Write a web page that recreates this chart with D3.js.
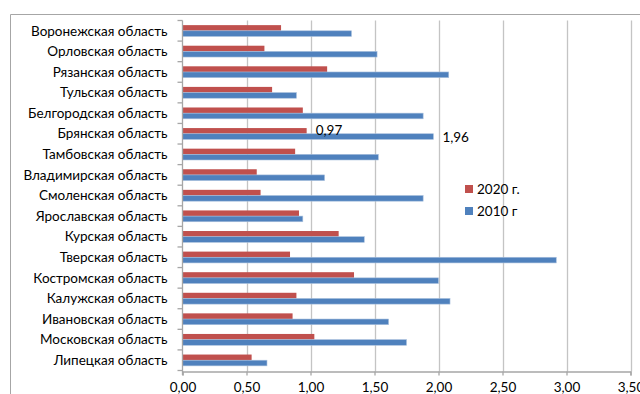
<!DOCTYPE html>
<html><head><meta charset="utf-8">
<script src="https://cdn.jsdelivr.net/npm/d3@7"></script>
<style>html,body{margin:0;padding:0;background:#fff;overflow:hidden}</style>
</head><body>
<svg id="c" width="640" height="394"></svg>
<script>
const categories = ["Воронежская область","Орловская область","Рязанская область","Тульская область","Белгородская область","Брянская область","Тамбовская область","Владимирская область","Смоленская область","Ярославская область","Курская область","Тверская область","Костромская область","Калужская область","Ивановская область","Московская область","Липецкая область"];
const values2020 = [0.77,0.64,1.13,0.70,0.94,0.97,0.88,0.58,0.61,0.91,1.22,0.84,1.34,0.89,0.86,1.03,0.54];
const values2010 = [1.32,1.52,2.08,0.89,1.88,1.96,1.53,1.11,1.88,0.94,1.42,2.92,2.00,2.09,1.61,1.75,0.66];
const seriesNames = ["2020 г.","2010 г"];
const xTicks = [0,0.5,1,1.5,2,2.5,3,3.5];
const labelled = [{cat:"Брянская область", series:0, text:"0,97"},{cat:"Брянская область", series:1, text:"1,96"}];

const colors = ["#C0504D","#4F81BD"];
const svg = d3.select("#c");
const font = "Lato, 'Open Sans', sans-serif";

// frame
svg.append("path").attr("d","M10.5,400V14.5H640").attr("fill","none").attr("stroke","#a6a6a6").attr("stroke-width",1);

const x = d3.scaleLinear().domain([0,3.5]).range([182.5,630.5]);
const y = d3.scaleBand().domain(categories).range([20.5,370.5]).paddingInner(0.45).paddingOuter(0.225);
const yc = d3.scaleBand().domain(categories).range([20.5,370.5]);
const ys = d3.scaleBand().domain([0,1]).range([0,y.bandwidth()]);

// gridlines
svg.append("g").selectAll("line").data(xTicks.slice(1)).join("line")
  .attr("x1",d=>Math.round(x(d))+0.5).attr("x2",d=>Math.round(x(d))+0.5)
  .attr("y1",20.5).attr("y2",371.5)
  .attr("stroke","#c4c4c4").attr("stroke-width",1.3);

// bars
const data = [];
categories.forEach((c,i)=>{
  data.push({c, s:0, v:values2020[i]});
  data.push({c, s:1, v:values2010[i]});
});
svg.append("g").selectAll("rect").data(data).join("rect")
  .attr("x",x(0)).attr("y",d=>y(d.c)+ys(d.s))
  .attr("width",d=>x(d.v)-x(0)).attr("height",ys.bandwidth())
  .attr("fill",d=>colors[d.s])
  .attr("stroke",d=>d.s===1?"#a9c0dd":"none").attr("stroke-width",0.6);

// axes
const xAxis = d3.axisBottom(x).tickValues(xTicks).tickSize(4).tickFormat(d=>d3.format(".2f")(d).replace(".",","));
const gx = svg.append("g").attr("transform","translate(0,371.5)").call(xAxis);
gx.select(".domain").attr("stroke","#a6a6a6").attr("stroke-width",1.3);
gx.selectAll(".tick line").attr("stroke","#a6a6a6").attr("stroke-width",1.3);
gx.selectAll("text").attr("font-family",font).attr("font-size",13.5).attr("fill","#000").attr("dy","0").attr("y",20);

const gy = svg.append("g").attr("transform","translate(182.5,0)");
gy.append("line").attr("x1",0).attr("x2",0).attr("y1",20.5).attr("y2",375).attr("stroke","#a6a6a6").attr("stroke-width",1.3);
const bounds = categories.map(c=>yc(c)).concat([yc(categories[categories.length-1])+yc.bandwidth()]);
gy.selectAll("line.t").data(bounds).join("line").attr("class","t")
  .attr("x1",-5).attr("x2",0).attr("y1",d=>d).attr("y2",d=>d)
  .attr("stroke","#a6a6a6").attr("stroke-width",1.3);
gy.selectAll("text").data(categories).join("text")
  .attr("x",-15).attr("y",d=>yc(d)+yc.bandwidth()/2).attr("dy","0.35em")
  .attr("text-anchor","end").attr("font-family",font).attr("font-size",13.5).attr("fill","#000")
  .text(d=>d);

// data labels
svg.append("g").selectAll("text").data(labelled).join("text")
  .attr("x",d=>x(d.series===0?values2020[categories.indexOf(d.cat)]:values2010[categories.indexOf(d.cat)])+9)
  .attr("y",d=>y(d.cat)+ys(d.series)+ys.bandwidth()/2+(d.series===0?-0.5:0.5))
  .attr("dy","0.35em").attr("font-family",font).attr("font-size",13.5).attr("fill","#000")
  .text(d=>d.text);

// legend
const lg = svg.append("g").attr("transform","translate(465,185)");
seriesNames.forEach((n,i)=>{
  lg.append("rect").attr("x",0).attr("y",i*22).attr("width",8).attr("height",8).attr("fill",colors[i]);
  lg.append("text").attr("x",12).attr("y",i*22+4).attr("dy","0.35em").attr("font-family",font).attr("font-size",13.5).attr("fill","#000").text(n);
});
</script>
</body></html>
